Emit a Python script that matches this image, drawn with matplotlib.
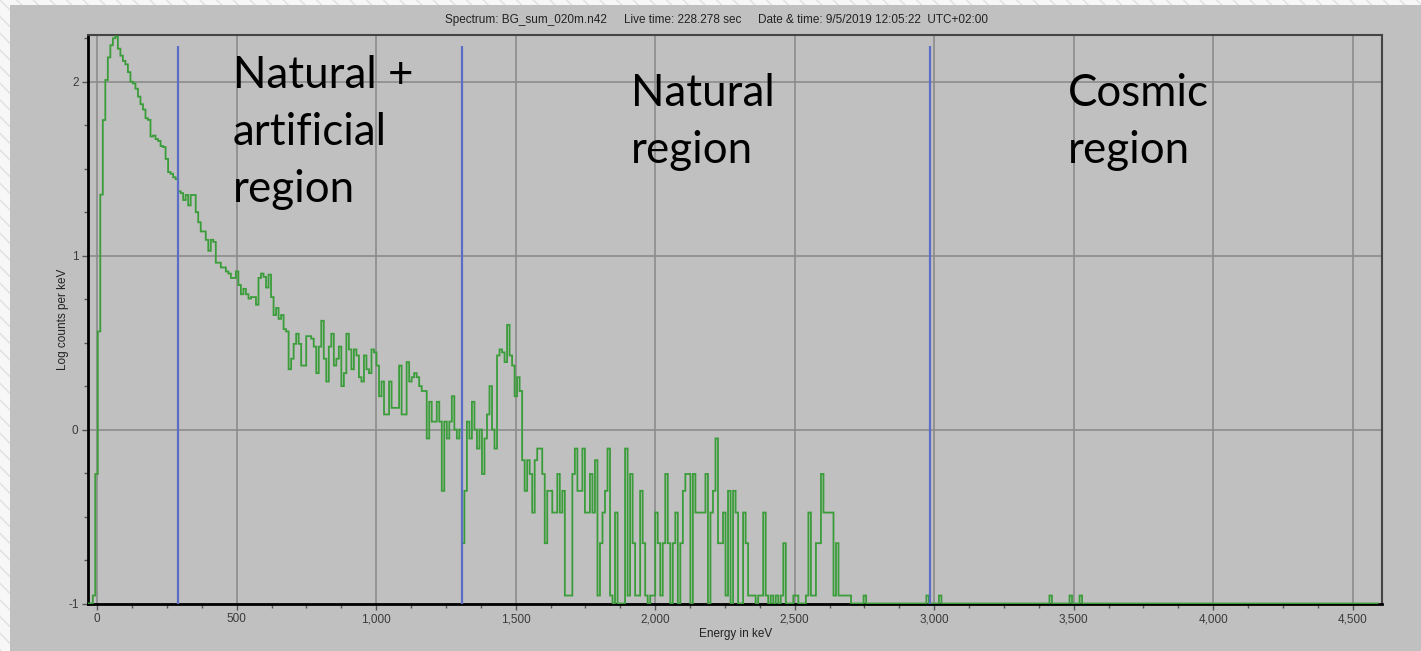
#!/usr/bin/env python3
"""Background gamma spectrum (log counts per keV) with region markers."""

import numpy as np
import matplotlib

matplotlib.use("Agg")
import matplotlib.pyplot as plt
from matplotlib.patches import Rectangle
from matplotlib.ticker import MultipleLocator

# --- data -------------------------------------------------------------------
BIN_WIDTH_KEV = 9.0
FIRST_EDGE_KEV = -34.0
N_CHANNELS = 514

# counts per 9 keV channel, starting at -34 keV
channel_counts = [
    0, 0,
    1, 5, 33, 202, 542, 921, 1242, 1460, 1600, 1638,
    1394, 1271, 1186, 1133, 1022, 900, 880, 821, 739, 668,
    623, 555, 543, 436, 441, 421, 411, 384, 379, 324,
    272, 266, 254, 248, 211, 206, 188, 201, 175, 201,
    201, 160, 140, 124, 124, 111, 96, 111, 108, 82,
    82, 77, 77, 73, 71, 67, 67, 73, 61, 54,
    58, 54, 51, 52, 52, 47, 67, 71, 68, 59,
    70, 52, 41, 45, 39, 41, 34, 33, 20, 23,
    28, 32, 28, 21, 21, 31, 31, 30, 27, 19,
    27, 38, 23, 17, 27, 32, 21, 23, 27, 16,
    19, 32, 26, 20, 26, 24, 18, 17, 24, 20,
    19, 26, 25, 21, 14, 17, 11, 11, 17, 12,
    12, 12, 21, 11, 11, 22, 17, 18, 19, 18,
    16, 15, 15, 8, 13, 10, 10, 13, 10, 4,
    10, 8, 10, 14, 9, 8, 9, 2, 4, 10,
    8, 13, 9, 7, 9, 5, 8, 11, 16, 9,
    7, 24, 26, 25, 22, 36, 24, 21, 14, 18,
    15, 6, 4, 6, 5, 3, 6, 7, 7, 5,
    2, 4, 4, 3, 3, 5, 3, 4, 1, 1,
    1, 5, 7, 4, 4, 7, 3, 3, 5, 3,
    6, 1, 2, 3, 4, 7, 1, 0, 3, 0,
    0, 0, 7, 1, 5, 2, 1, 1, 4, 2,
    1, 0, 1, 1, 3, 2, 1, 2, 5, 2,
    0, 2, 3, 0, 2, 4, 5, 5, 0, 5,
    3, 3, 3, 3, 5, 0, 3, 4, 8, 2,
    2, 3, 1, 4, 0, 4, 3, 0, 0, 3,
    2, 1, 1, 1, 0, 1, 1, 3, 1, 0,
    1, 0, 1, 0, 1, 2, 0, 0, 0, 1,
    1, 0, 0, 0, 1, 3, 1, 1, 2, 2,
    5, 3, 3, 3, 3, 1, 2, 1, 1, 1,
    1, 1, 0, 0, 0, 0, 0, 1, 0, 0,
]
# single counts seen in the cosmic region
cosmic_hits_kev = [2975, 3020, 3418, 3490, 3525]

region_bounds_kev = [288, 1308, 2984]
region_labels = ["Natural +\nartificial\nregion", "Natural\nregion", "Cosmic\nregion"]

x_ticks = [0, 500, 1000, 1500, 2000, 2500, 3000, 3500, 4000, 4500]
x_tick_labels = ["0", "500", "1,000", "1,500", "2,000", "2,500", "3,000",
                 "3,500", "4,000", "4,500"]
y_ticks = [-1, 0, 1, 2]

title_parts = ["Spectrum: BG_sum_020m.n42", "Live time: 228.278 sec",
               "Date & time: 9/5/2019 12:05:22  UTC+02:00"]

# --- style ------------------------------------------------------------------
PANEL = "#c0c0c0"
GREEN = "#3a9d3a"
BLUE = "#5a6ec8"
GRID = "#8c8c8c"
TICK_TXT = "#3a3a3a"
SANS = ["Liberation Sans", "DejaVu Sans"]

W, H = 1421, 651


def main() -> int:
    counts = np.zeros(N_CHANNELS)
    counts[: len(channel_counts)] = channel_counts
    for e in cosmic_hits_kev:
        counts[int((e - FIRST_EDGE_KEV) // BIN_WIDTH_KEV)] += 1
    edges = FIRST_EDGE_KEV + BIN_WIDTH_KEV * np.arange(N_CHANNELS + 1)
    logv = np.where(counts > 0, np.log10(np.maximum(counts, 1) / BIN_WIDTH_KEV), -1.0)

    fig = plt.figure(figsize=(W / 100, H / 100), dpi=100)
    fig.patch.set_facecolor("#f7f7f7")
    fig.patches.append(Rectangle((0, 0), 1, 1, transform=fig.transFigure,
                                 facecolor="none", edgecolor="#e0e0e0",
                                 hatch="\\\\", linewidth=0, zorder=-3))
    fig.patches.append(Rectangle((10 / W, 0), 1 - 10 / W, 1 - 5 / H,
                                 transform=fig.transFigure, facecolor=PANEL,
                                 edgecolor="none", zorder=-2))

    ax = fig.add_axes([88.3 / W, (H - 603.5) / H, (1382 - 88.3) / W, (603.5 - 35.3) / H])
    ax.set_facecolor(PANEL)
    ax.set_xlim(-32, 4605)
    ax.set_ylim(-1, 2.267)

    ax.set_xticks(x_ticks, x_tick_labels)
    ax.set_yticks(y_ticks, [str(v) for v in y_ticks])
    ax.xaxis.set_minor_locator(MultipleLocator(125))
    ax.yaxis.set_minor_locator(MultipleLocator(0.25))
    ax.tick_params(which="both", direction="out", color="#555555", labelsize=8.5,
                   labelcolor=TICK_TXT, width=1)
    ax.tick_params(which="major", length=4, pad=3)
    ax.tick_params(which="minor", length=3)
    ax.grid(True, which="major", color=GRID, linewidth=1.2)
    ax.set_axisbelow(True)

    for side in ("left", "bottom"):
        ax.spines[side].set_color("black")
        ax.spines[side].set_linewidth(2)
    for side in ("top", "right"):
        ax.spines[side].set_color("#444444")
        ax.spines[side].set_linewidth(1.5)

    ax.stairs(logv, edges, baseline=-1, color=GREEN, linewidth=1.3, zorder=3)
    ax.vlines(region_bounds_kev, -1, 2.205, color=BLUE, linewidth=1.6, zorder=4)

    big = dict(fontsize=31.6, family=["Lato", "DejaVu Sans"], color="black",
               va="top", ha="left", linespacing=1.49, zorder=5)
    ax.text(486, 2.155, region_labels[0], **big)
    ax.text(1913, 2.05, region_labels[1], **big)
    ax.text(3479, 2.05, region_labels[2], **big)

    small = dict(family=SANS, color="#222222", fontsize=8.5)
    for part, left_px in zip(title_parts, (445, 624, 758)):
        fig.text(left_px / W, 1 - 20 / H, part, ha="left", va="center", **small)
    ax.set_xlabel("Energy in keV", labelpad=2, **small)
    ax.set_ylabel("Log counts per keV", labelpad=-1, **small)
    for lab in ax.get_xticklabels() + ax.get_yticklabels():
        lab.set_family(SANS)

    fig.savefig("out.png", dpi=100, facecolor=fig.get_facecolor())
    return 0


if __name__ == "__main__":
    raise SystemExit(main())
